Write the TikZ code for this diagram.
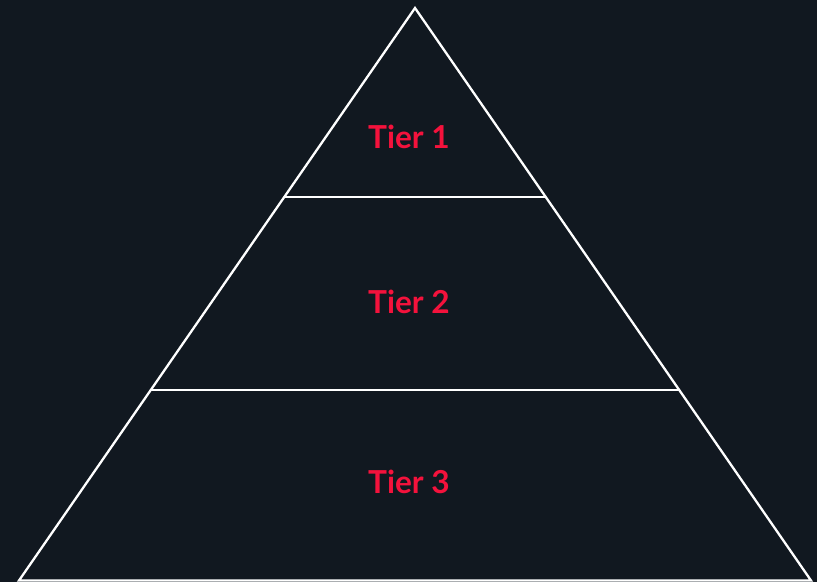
\documentclass[tikz,border=0pt]{standalone}
\usepackage{fontspec}
\setmainfont{Lato}
\usepackage{xcolor}
\definecolor{bgdark}{HTML}{111820}
\definecolor{tierred}{HTML}{F4123C}
\tikzset{
	edge/.style={draw=white, line width=1.3pt, line join=miter},
	tierlabel/.style={text=tierred, font=\fontsize{18}{22}\selectfont\bfseries, anchor=center, inner sep=0pt}
}

\begin{document}
\begin{tikzpicture}[x=0.02cm, y=-0.02cm]
	% Background:
	\fill[bgdark] (0, 0) rectangle (817, 582);
	\useasboundingbox (0, 0) rectangle (817, 582);
	% Corners and tier lines:
	\coordinate (apex) at (415, 8);
	\coordinate (baseL) at (19, 580.5);
	\coordinate (baseR) at (811, 580.5);
	\coordinate (oneL) at (284.2, 197);
	\coordinate (oneR) at (545.8, 197);
	\coordinate (twoL) at (150.5, 390);
	\coordinate (twoR) at (679.5, 390);
	\draw[edge] (apex) -- (baseR) -- (baseL) -- cycle;
	\draw[edge] (oneL) -- (oneR);
	\draw[edge] (twoL) -- (twoR);
	% Labels:
	\node[tierlabel] (tier1) at (409, 137){Tier 1};
	\node[tierlabel] (tier2) at (409, 302){Tier 2};
	\node[tierlabel] (tier3) at (409, 482){Tier 3};
\end{tikzpicture}
\end{document}
